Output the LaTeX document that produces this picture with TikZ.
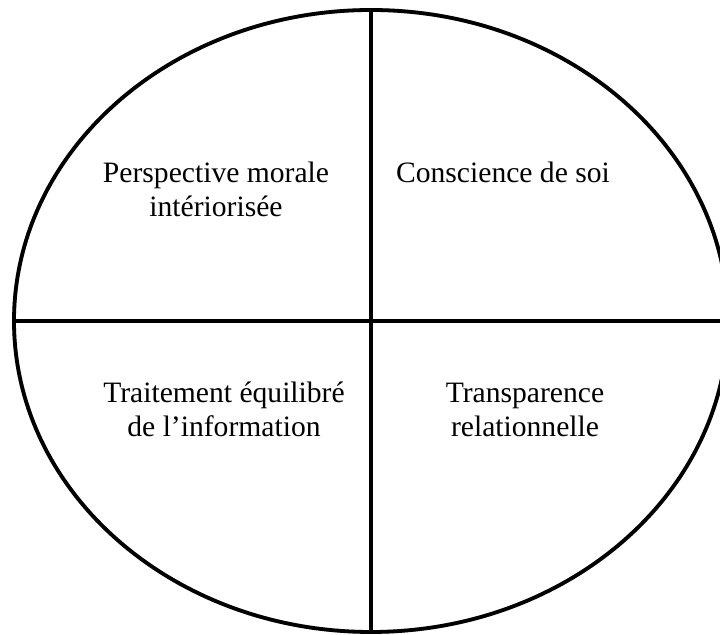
\documentclass[tikz,border=0pt]{standalone}
\usepackage{fontspec}
\setmainfont{Liberation Serif}
\tikzset{
  rim/.style={line width=1.9pt},
  rimshade/.style={line width=1.9pt, draw=black!22, shift={(1.5,1.5)}},
  quad/.style={align=center, anchor=base, font=\fontsize{14.8}{17}\selectfont}
}
\begin{document}
\begin{tikzpicture}[x=0.5pt, y=-0.5pt]
   \useasboundingbox (0,0) rectangle (720,635);
   \clip (0,0) rectangle (720,635);
   \coordinate (c) at (371,321);
   \coordinate (top) at (371,10);
   \coordinate (bot) at (371,632);
   \coordinate (lft) at (14,321);
   \coordinate (rgt) at (728,321);
   % shade
   \draw[rimshade] (c) ellipse [x radius=357, y radius=311];
   \draw[rimshade] (top) -- (bot);
   \draw[rimshade] (lft) -- (rgt);
   % ellipse and cross
   \draw[rim] (c) ellipse [x radius=357, y radius=311];
   \draw[rim] (top) -- (bot);
   \draw[rim] (lft) -- (rgt);
   \node[quad] (moral) at (216,217) {Perspective morale\\intériorisée};
   \node[quad] (soi) at (503,183) {Conscience de soi};
   \node[quad] (traite) at (224,437) {Traitement équilibré\\de l’information};
   \node[quad] (transp) at (525,437) {Transparence\\relationnelle};
\end{tikzpicture}
\end{document}
